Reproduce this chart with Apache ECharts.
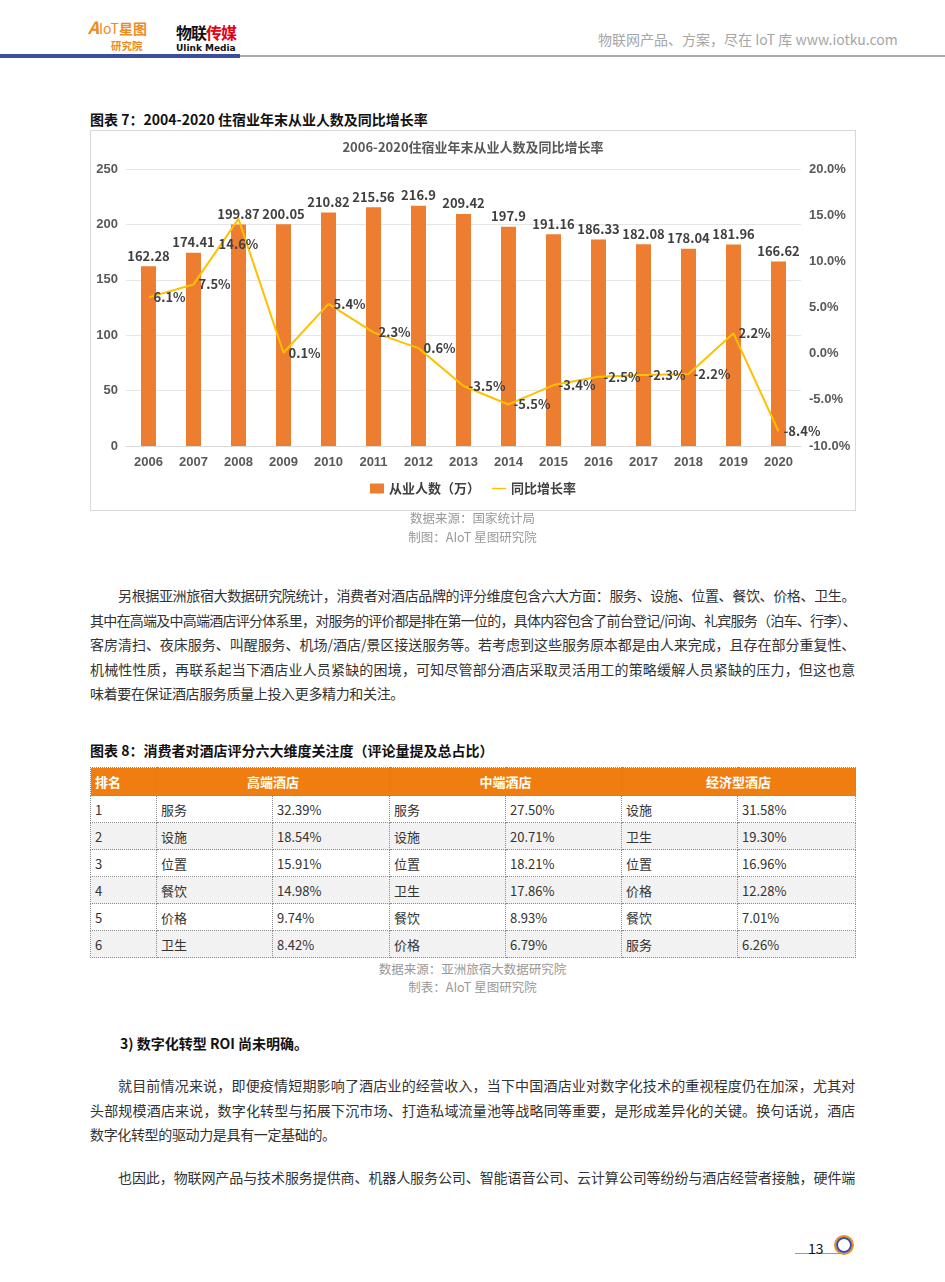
<!DOCTYPE html>
<html><head><meta charset="utf-8">
<script src="https://cdn.jsdelivr.net/npm/echarts@6/dist/echarts.min.js"></script>
<style>
html,body{margin:0;padding:0;background:#fff;}
body{width:945px;height:1282px;position:relative;overflow:hidden;font-family:"Noto Sans CJK SC","Noto Sans",sans-serif;color:#333;}
.abs{position:absolute;}
.line{white-space:nowrap;text-align:justify;text-align-last:justify;height:24.5px;line-height:24.5px;letter-spacing:-0.35px;}
.para{position:absolute;left:90px;width:765px;font-size:14px;color:#333;}
.src{position:absolute;left:90px;width:765px;text-align:center;font-size:12.5px;color:#999;line-height:18px;}
.h{position:absolute;left:90px;font-size:14px;font-weight:bold;color:#111;line-height:20px;}
table{border-collapse:collapse;table-layout:fixed;font-size:13px;color:#333;}
td,th{border:1px dotted #8a8a8a;height:26px;padding:0 0 0 4px;text-align:left;white-space:nowrap;}
th{background:#ef7d10;color:#fff;font-weight:bold;text-align:center;height:27px;padding:0;}
th.l{text-align:left;padding-left:4px;}
tr.g td{background:#f2f2f2;}
</style></head>
<body>
<!-- header -->
<div class="abs" style="left:88px;top:17px;color:#ef8a1f;font-size:17px;font-weight:bold;font-style:italic;line-height:20px;">A<span style="font-style:normal;font-weight:normal;font-size:14px">IoT</span><span style="font-style:normal;font-size:14px">星图</span></div>
<div class="abs" style="left:111px;top:39px;color:#ef8a1f;font-size:10.5px;font-weight:bold;line-height:14px;">研究院</div>
<div class="abs" style="left:176px;top:22px;font-size:16px;font-weight:bold;line-height:20px;letter-spacing:-1px;"><span style="color:#111">物联</span><span style="color:#e50012">传媒</span></div>
<div class="abs" style="left:176px;top:42px;font-size:9px;font-weight:bold;line-height:12px;color:#111;font-family:'DejaVu Sans'">Ulink Media</div>
<div class="abs" style="left:598px;top:29px;font-size:14px;color:#a6a6a6;line-height:20px;">物联网产品、方案，尽在 IoT 库 www.iotku.com</div>
<div class="abs" style="left:0;top:55px;width:945px;height:2px;background:#aaaaaa;"></div>
<div class="abs" style="left:0;top:54px;width:240px;height:4px;background:#3b4e9c;"></div>

<!-- chart 7 -->
<div class="h" style="top:109px;">图表 7：2004-2020 住宿业年末从业人数及同比增长率</div>
<div id="chart" class="abs" style="left:90px;top:130px;width:764px;height:379px;border:1px solid #d9d9d9;"></div>
<div class="src" style="top:509px;">数据来源：国家统计局</div>
<div class="src" style="top:528px;">制图：AIoT 星图研究院</div>

<div class="para" style="top:583px;">
<div class="line" style="padding-left:28px;">另根据亚洲旅宿大数据研究院统计，消费者对酒店品牌的评分维度包含六大方面：服务、设施、位置、餐饮、价格、卫生。</div>
<div class="line" style="letter-spacing:-1.7px;">其中在高端及中高端酒店评分体系里，对服务的评价都是排在第一位的，具体内容包含了前台登记/问询、礼宾服务（泊车、行李）、</div>
<div class="line">客房清扫、夜床服务、叫醒服务、机场/酒店/景区接送服务等。若考虑到这些服务原本都是由人来完成，且存在部分重复性、</div>
<div class="line">机械性性质，再联系起当下酒店业人员紧缺的困境，可知尽管部分酒店采取灵活用工的策略缓解人员紧缺的压力，但这也意</div>
<div class="line" style="text-align-last:left;">味着要在保证酒店服务质量上投入更多精力和关注。</div>
</div>

<!-- table 8 -->
<div class="h" style="top:740px;">图表 8：消费者对酒店评分六大维度关注度（评论量提及总占比）</div>
<table id="tbl" class="abs" style="left:90px;top:767px;width:765px;">
<colgroup><col style="width:66px"><col style="width:116px"><col style="width:117px"><col style="width:116px"><col style="width:116px"><col style="width:116px"><col style="width:118px"></colgroup>
<thead><tr><th class="l">排名</th><th colspan="2">高端酒店</th><th colspan="2">中端酒店</th><th colspan="2">经济型酒店</th></tr></thead>
<tbody id="tb"></tbody>
</table>
<div class="src" style="top:960px;">数据来源：亚洲旅宿大数据研究院</div>
<div class="src" style="top:978px;">制表：AIoT 星图研究院</div>

<div class="abs" style="left:120px;top:1033px;font-size:14px;font-weight:bold;color:#111;line-height:20px;">3) 数字化转型 ROI 尚未明确。</div>

<div class="para" style="top:1073px;">
<div class="line" style="padding-left:28px;">就目前情况来说，即便疫情短期影响了酒店业的经营收入，当下中国酒店业对数字化技术的重视程度仍在加深，尤其对</div>
<div class="line">头部规模酒店来说，数字化转型与拓展下沉市场、打造私域流量池等战略同等重要，是形成差异化的关键。换句话说，酒店</div>
<div class="line" style="text-align-last:left;">数字化转型的驱动力是具有一定基础的。</div>
</div>
<div class="para" style="top:1165px;">
<div class="line" style="padding-left:28px;">也因此，物联网产品与技术服务提供商、机器人服务公司、智能语音公司、云计算公司等纷纷与酒店经营者接触，硬件端</div>
</div>

<!-- footer -->
<div class="abs" style="left:795px;top:1253px;width:45px;height:1px;background:#999;"></div>
<div class="abs" style="left:808px;top:1238px;font-size:14px;color:#111;line-height:20px;">13</div>
<div class="abs" style="left:834px;top:1235px;width:16px;height:16px;border-radius:50%;border:2px solid #f08a24;"></div>
<div class="abs" style="left:836px;top:1237px;width:12px;height:12px;border-radius:50%;border:2px solid #3b4e9c;box-sizing:content-box;"></div>

<script>
// ---- chart data ----
var years = ['2006','2007','2008','2009','2010','2011','2012','2013','2014','2015','2016','2017','2018','2019','2020'];
var employees = [162.28,174.41,199.87,200.05,210.82,215.56,216.9,209.42,197.9,191.16,186.33,182.08,178.04,181.96,166.62];
var growthRate = [6.1,7.5,14.6,0.1,5.4,2.3,0.6,-3.5,-5.5,-3.4,-2.5,-2.3,-2.2,2.2,-8.4];
var leftTicks = [0,250,50];
var rightTicks = [-10,20,5];

// ---- table data ----
var ranks = ['1','2','3','4','5','6'];
var highName = ['服务','设施','位置','餐饮','价格','卫生'];
var highPct = ['32.39%','18.54%','15.91%','14.98%','9.74%','8.42%'];
var midName = ['服务','设施','位置','卫生','餐饮','价格'];
var midPct = ['27.50%','20.71%','18.21%','17.86%','8.93%','6.79%'];
var ecoName = ['设施','卫生','位置','价格','餐饮','服务'];
var ecoPct = ['31.58%','19.30%','16.96%','12.28%','7.01%','6.26%'];

var tb = document.getElementById('tb');
for (var i = 0; i < ranks.length; i++) {
  var tr = document.createElement('tr');
  if (i % 2 === 1) tr.className = 'g';
  [ranks[i], highName[i], highPct[i], midName[i], midPct[i], ecoName[i], ecoPct[i]].forEach(function (t) {
    var td = document.createElement('td'); td.textContent = t; tr.appendChild(td);
  });
  tb.appendChild(tr);
}

var chart = echarts.init(document.getElementById('chart'));
var lblFont = {fontFamily:'"Noto Sans CJK SC","Noto Sans",sans-serif', fontSize:13, color:'#404040', fontWeight:'bold'};
var lineData = growthRate.map(function (v, i) {
  var d = {value: v};
  if (years[i] === '2008') d.label = {position: 'bottom', offset: [0, 14]};
  return d;
});
chart.setOption({
  animation: false,
  title: {
    text: '2006-2020住宿业年末从业人数及同比增长率', left: 'center', top: 5,
    textStyle: {fontSize: 13, fontWeight: 'bold', color: '#595959', fontFamily: '"Noto Sans CJK SC",sans-serif'}
  },
  legend: {
    bottom: 10, left: 'center', itemGap: 12, itemWidth: 14, itemHeight: 10,
    textStyle: {fontSize: 13, color: '#404040', fontWeight: 'bold', fontFamily: '"Noto Sans CJK SC",sans-serif'},
    data: [{name: '从业人数（万）', icon: 'rect'}, {name: '同比增长率', icon: 'path://M0,4 L20,4 L20,6 L0,6 Z', itemStyle: {color: '#FFC000'}}]
  },
  grid: {left: 35, right: 54, top: 38, bottom: 64},
  xAxis: {
    type: 'category', data: years,
    axisLine: {lineStyle: {color: '#d9d9d9'}}, axisTick: {show: false},
    axisLabel: {fontSize: 13, color: '#595959', fontWeight: 'bold', margin: 10}
  },
  yAxis: [{
    type: 'value', min: leftTicks[0], max: leftTicks[1], interval: leftTicks[2],
    axisLine: {show: false}, axisTick: {show: false},
    axisLabel: {fontSize: 13, color: '#595959', fontWeight: 'bold', margin: 8},
    splitLine: {lineStyle: {color: '#e6e6e6'}}
  }, {
    type: 'value', min: rightTicks[0], max: rightTicks[1], interval: rightTicks[2],
    axisLine: {show: false}, axisTick: {show: false},
    axisLabel: {fontSize: 13, color: '#595959', fontWeight: 'bold', margin: 8, formatter: function (v) { return v.toFixed(1) + '%'; }},
    splitLine: {show: false}
  }],
  series: [{
    name: '从业人数（万）', type: 'bar', data: employees, barWidth: 15,
    itemStyle: {color: '#ED7D31'},
    label: Object.assign({show: true, position: 'top', distance: 4}, lblFont)
  }, {
    name: '同比增长率', type: 'line', yAxisIndex: 1, data: lineData,
    symbol: 'circle', symbolSize: 0.1, showSymbol: true,
    lineStyle: {color: '#FFC000', width: 2}, itemStyle: {color: '#FFC000'},
    label: Object.assign({show: true, position: 'right', distance: 5, formatter: function (p) { return p.value.toFixed(1) + '%'; }}, lblFont)
  }]
});
</script>
</body></html>
